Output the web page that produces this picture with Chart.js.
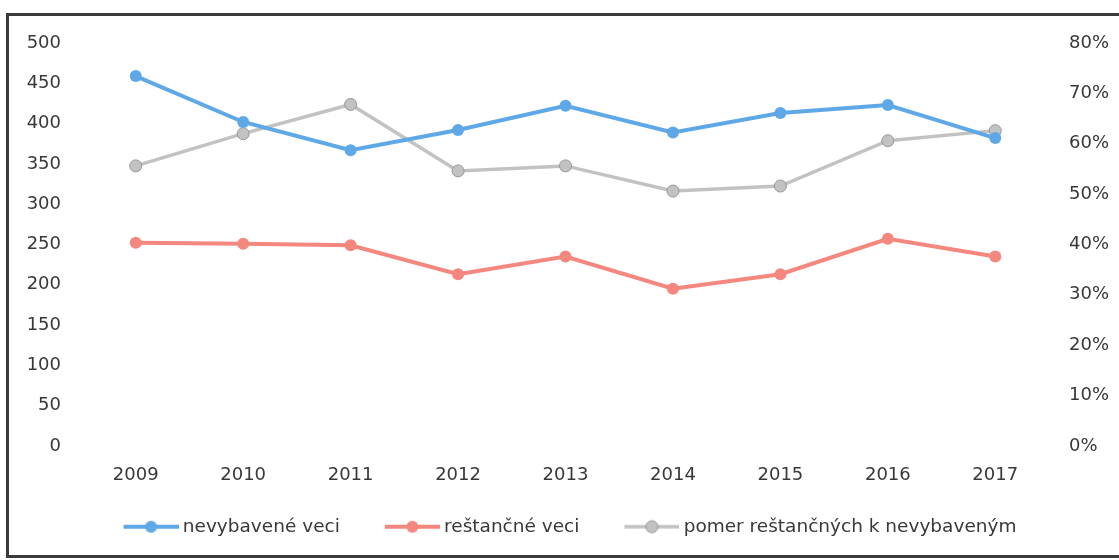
<!DOCTYPE html>
<html>
<head>
<meta charset="utf-8">
<script src="https://cdn.jsdelivr.net/npm/chart.js@4.4.1/dist/chart.umd.min.js"></script>
<style>
  html, body { margin: 0; padding: 0; background: #fff; overflow: hidden; }
  #wrap { position: relative; width: 1119px; height: 560px; }
  #ramik { position: absolute; left: 6px; top: 13px; width: 1130px; height: 545px;
           border: 3px solid #3a3a3a; border-right: none; box-sizing: border-box; }
  #graf { position: absolute; left: 0; top: 0; }
</style>
</head>
<body>
<div id="wrap">
  <div id="ramik"></div>
  <canvas id="graf" width="1119" height="560"></canvas>
</div>
<script>
/* nevybavené a reštančné veci 2009–2017 */

const ROKY = ['2009', '2010', '2011', '2012', '2013', '2014', '2015', '2016', '2017'];
const NEVYBAVENE = [459, 402, 367, 392, 422, 389, 413, 423, 382];
const RESTANCNE  = [252, 251, 249, 213, 235, 195, 213, 257, 235];
const POMER      = [55.6, 62.0, 67.8, 54.6, 55.6, 50.6, 51.6, 60.6, 62.6];   // v %

const TICKY_VLAVO  = [0, 50, 100, 150, 200, 250, 300, 350, 400, 450, 500];
const TICKY_VPRAVO = [0, 10, 20, 30, 40, 50, 60, 70, 80];

const FARBY = {
  modra:  '#5ea8e8',
  losos:  '#f4877e',
  siva:   '#c2c2c2',
  sivaOk: '#969696',
  text:   '#383838',
};

const FONT = "'DejaVu Sans', sans-serif";
const VELKOST = 18;

// ikonka do legendy: prazdne miesto vlavo (medzera medzi polozkami), ciara a kruzok
// obrazok je o 10px sirsi nez box, aby ciara siahala blizsie k textu
function legendIkona(farba, okraj, hrubka) {
  const c = document.createElement('canvas');
  c.width = 95; c.height = 16;
  const g = c.getContext('2d');
  g.strokeStyle = farba;
  g.lineWidth = hrubka;
  g.beginPath(); g.moveTo(40, 8); g.lineTo(95, 8); g.stroke();
  g.fillStyle = farba;
  g.beginPath(); g.arc(67.5, 8, 6, 0, Math.PI * 2); g.fill();
  if (okraj) {
    g.strokeStyle = okraj; g.lineWidth = 1;
    g.stroke();
  }
  return c;
}

const IKONY = [
  legendIkona(FARBY.modra, null, 4),
  legendIkona(FARBY.losos, null, 4),
  legendIkona(FARBY.siva, FARBY.sivaOk, 3.5),
];

// legenda v originale nie je presne v strede, posunieme ju trochu dolava
const posunLegendy = {
  id: 'posunLegendy',
  afterLayout(chart) {
    if (chart.legend) chart.legend.right -= 34;
  }
};

function seria(label, data, farba, os, okraj, hrubka) {
  return {
    label, data,
    yAxisID: os,
    borderColor: farba,
    backgroundColor: farba,
    borderWidth: hrubka,
    pointRadius: 6,
    pointHoverRadius: 6,
    pointBackgroundColor: farba,
    pointBorderColor: okraj || farba,
    pointBorderWidth: okraj ? 1 : 0,
    tension: 0,
  };
}

new Chart(document.getElementById('graf'), {
  type: 'line',
  data: {
    labels: ROKY,
    datasets: [
      seria('nevybavené veci', NEVYBAVENE, FARBY.modra, 'y', null, 4),
      seria('reštančné veci', RESTANCNE, FARBY.losos, 'y', null, 4),
      seria('pomer reštančných k nevybaveným', POMER, FARBY.siva, 'y1', FARBY.sivaOk, 3.5),
    ]
  },
  plugins: [posunLegendy],
  options: {
    responsive: false,
    animation: false,
    layout: { padding: { left: 20, right: 0, top: 43, bottom: 14 } },
    plugins: {
      tooltip: { enabled: false },
      legend: {
        position: 'bottom',
        labels: {
          usePointStyle: true,
          pointStyleWidth: 85,
          padding: 10,
          color: FARBY.text,
          font: { family: FONT, size: 18.5 },
          generateLabels: chart => Chart.defaults.plugins.legend.labels.generateLabels(chart)
            .map((it, i) => ({ ...it, pointStyle: IKONY[i] })),
        }
      }
    },
    scales: {
      x: {
        offset: true,
        grid: { display: false, drawTicks: false },
        border: { display: false },
        ticks: { padding: 19, color: FARBY.text, font: { family: FONT, size: VELKOST } },
        afterFit: s => { s.height += 2; },
      },
      y: {
        position: 'left',
        min: 0, max: 500,
        grid: { display: false, drawTicks: false },
        border: { display: false },
        ticks: { padding: 21, color: FARBY.text, font: { family: FONT, size: VELKOST } },
        afterBuildTicks: s => { s.ticks = TICKY_VLAVO.map(v => ({ value: v })); },
        afterFit: s => { s.width = 62; },
      },
      y1: {
        position: 'right',
        min: 0, max: 80,
        grid: { display: false, drawTicks: false },
        border: { display: false },
        ticks: {
          padding: 20, color: FARBY.text, font: { family: FONT, size: VELKOST },
          callback: v => v + '%',
        },
        afterBuildTicks: s => { s.ticks = TICKY_VPRAVO.map(v => ({ value: v })); },
        afterFit: s => { s.width = 70; },
      }
    }
  }
});
</script>
</body>
</html>
